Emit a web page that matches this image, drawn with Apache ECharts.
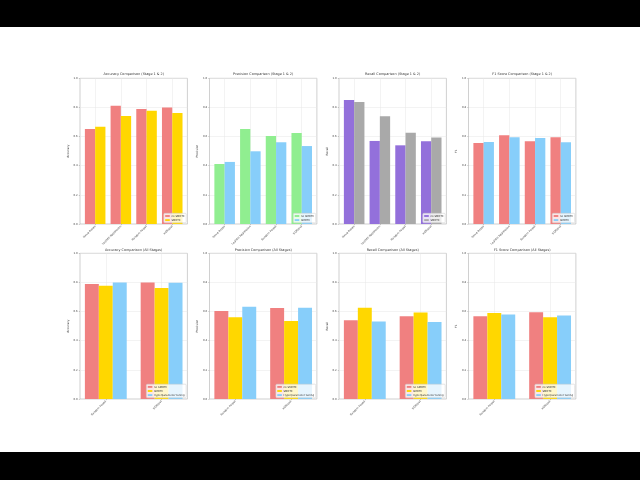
<!DOCTYPE html>
<html><head><meta charset="utf-8">
<script src="https://cdn.jsdelivr.net/npm/echarts@6/dist/echarts.min.js"></script>
<style>
html,body{margin:0;padding:0;background:#000;width:640px;height:480px;overflow:hidden}
#bg{position:absolute;left:0;top:27px;width:640px;height:425px;background:#fff}
#main{position:absolute;left:0;top:0;width:640px;height:480px}
</style>
</head><body><div id="bg"></div><div id="main"></div>
<script>
// ---- data ----
const stage12Models = ['Naive Bayes', 'Logistic Regression', 'Random Forest', 'XGBoost'];
const allStageModels = ['Random Forest', 'XGBoost'];
const seriesNames = ['no SMOTE', 'SMOTE', 'Hyperparameter tuning'];
const yTicks = [0.0, 0.2, 0.4, 0.6, 0.8, 1.0];

const accNoSmote  = [0.652, 0.812, 0.789, 0.799];
const accSmote    = [0.668, 0.741, 0.778, 0.762];
const precNoSmote = [0.412, 0.652, 0.604, 0.625];
const precSmote   = [0.426, 0.499, 0.561, 0.535];
const recNoSmote  = [0.851, 0.570, 0.540, 0.568];
const recSmote    = [0.838, 0.739, 0.627, 0.593];
const f1NoSmote   = [0.556, 0.609, 0.568, 0.595];
const f1Smote     = [0.563, 0.595, 0.590, 0.561];

// all stages (Random Forest, XGBoost)
const accTuned  = [0.800, 0.798];
const precTuned = [0.633, 0.626];
const recTuned  = [0.532, 0.528];
const f1Tuned   = [0.580, 0.573];

// ---- styles ----
const C = {coral:'#F08080', gold:'#FFD700', green:'#90EE90', sky:'#87CEFA', purple:'#9370DB', gray:'#A9A9A9'};

const panels = [
  {title:'Accuracy Comparison (Stage 1 & 2)', ylabel:'Accuracy', cats:stage12Models,
   s:[[seriesNames[0], accNoSmote, C.coral],[seriesNames[1], accSmote, C.gold]]},
  {title:'Precision Comparison (Stage 1 & 2)', ylabel:'Precision', cats:stage12Models,
   s:[[seriesNames[0], precNoSmote, C.green],[seriesNames[1], precSmote, C.sky]]},
  {title:'Recall Comparison (Stage 1 & 2)', ylabel:'Recall', cats:stage12Models,
   s:[[seriesNames[0], recNoSmote, C.purple],[seriesNames[1], recSmote, C.gray]]},
  {title:'F1 Score Comparison (Stage 1 & 2)', ylabel:'F1', cats:stage12Models,
   s:[[seriesNames[0], f1NoSmote, C.coral],[seriesNames[1], f1Smote, C.sky]]},
  {title:'Accuracy Comparison (All Stages)', ylabel:'Accuracy', cats:allStageModels,
   s:[[seriesNames[0], accNoSmote.slice(2), C.coral],[seriesNames[1], accSmote.slice(2), C.gold],[seriesNames[2], accTuned, C.sky]]},
  {title:'Precision Comparison (All Stages)', ylabel:'Precision', cats:allStageModels,
   s:[[seriesNames[0], precNoSmote.slice(2), C.coral],[seriesNames[1], precSmote.slice(2), C.gold],[seriesNames[2], precTuned, C.sky]]},
  {title:'Recall Comparison (All Stages)', ylabel:'Recall', cats:allStageModels,
   s:[[seriesNames[0], recNoSmote.slice(2), C.coral],[seriesNames[1], recSmote.slice(2), C.gold],[seriesNames[2], recTuned, C.sky]]},
  {title:'F1 Score Comparison (All Stages)', ylabel:'F1', cats:allStageModels,
   s:[[seriesNames[0], f1NoSmote.slice(2), C.coral],[seriesNames[1], f1Smote.slice(2), C.gold],[seriesNames[2], f1Tuned, C.sky]]}
];

// ---- layout ----
const colLeft = [80, 209.5, 339, 468.5];
const W = 107.4;
const rowTop = [78.3, 253.3];
const rowBottom = [224, 399];
const titleY = [74.3, 249.8];
const FONT = 'DejaVu Sans';
const gridColor = '#e6e6e6';
const textColor = '#444';

const grid = [], xAxis = [], yAxis = [], series = [], legend = [], graphic = [];

panels.forEach((p, i) => {
  const r = i < 4 ? 0 : 1, c = i % 4;
  const L = colLeft[c], T = rowTop[r], B = rowBottom[r], H = B - T;
  const n = p.cats.length, k = p.s.length;
  const bw = k === 2 ? 0.4 : 0.25;
  const gw = bw * k;
  const span = (n - 1) + gw;
  const lo = -gw / 2 - 0.05 * span;
  const hi = (n - 1) + gw / 2 + 0.05 * span;
  const unit = W / (hi - lo);
  const innerL = L + (-lo) * unit;
  const innerW = (n - 1) * unit;
  const go = 2 * i, gi = 2 * i + 1;

  grid.push({left:L, top:T, width:W, height:H, show:true, borderColor:'#b0b0b0', borderWidth:0.6, backgroundColor:'transparent'});
  grid.push({left:innerL, top:T, width:innerW, height:H});

  xAxis.push({gridIndex:go, type:'value', min:0, max:1, show:false});
  yAxis.push({gridIndex:go, type:'value', min:yTicks[0], max:yTicks[yTicks.length-1], interval:0.2,
    name:p.ylabel, nameLocation:'middle', nameGap:7.6, nameRotate:90,
    nameTextStyle:{fontSize:2.9, color:'#333', fontFamily:FONT},
    axisLine:{show:false},
    axisTick:{show:true, length:1.2, lineStyle:{color:'#999', width:0.5}},
    axisLabel:{fontSize:2.7, margin:2.2, color:textColor, fontFamily:FONT, formatter:v => v.toFixed(1)},
    splitLine:{show:true, lineStyle:{color:gridColor, width:0.5}}});

  xAxis.push({gridIndex:gi, type:'category', data:p.cats, boundaryGap:false,
    axisLine:{show:false},
    axisTick:{show:true, length:1.2, interval:0, lineStyle:{color:'#999', width:0.5}},
    axisLabel:{rotate:45, fontSize:2.7, margin:2, interval:0, color:textColor, fontFamily:FONT},
    splitLine:{show:true, interval:0, lineStyle:{color:gridColor, width:0.5}}});
  yAxis.push({gridIndex:gi, type:'value', min:0, max:1, show:false});

  p.s.forEach(([name, data, color]) => {
    series.push({type:'bar', name, xAxisIndex:gi, yAxisIndex:gi, data,
      itemStyle:{color}, barGap:'0%', barCategoryGap:((1 - gw) * 100) + '%',
      clip:false, silent:true, animation:false});
  });

  legend.push({orient:'vertical', right:640 - (L + W) + 1.2, bottom:480 - B + 1.2,
    data:p.s.map(([name, , color]) => ({name, icon:'rect', itemStyle:{color}})),
    itemWidth:4.6, itemHeight:1.9, itemGap:1.1, selectedMode:false,
    padding:[1.2, 1.6, 1.2, 1.4],
    textStyle:{fontSize:2.6, color:'#333', fontFamily:FONT, padding:[0, 0, 0, -3.4]},
    backgroundColor:'rgba(255,255,255,0.8)', borderColor:'#cccccc', borderWidth:0.5, borderRadius:1});

  graphic.push({type:'text', x:L + W / 2, y:titleY[r], silent:true,
    style:{text:p.title, fontSize:3.4, fontFamily:FONT, fill:'#333',
      align:'center', verticalAlign:'middle', textAlign:'center', textVerticalAlign:'middle'}});
});

const chart = echarts.init(document.getElementById('main'), null, {renderer:'canvas'});
chart.setOption({
  backgroundColor:'transparent',
  animation:false,
  textStyle:{fontFamily:FONT},
  grid, xAxis, yAxis, series, legend, graphic
});
</script>
</body></html>
